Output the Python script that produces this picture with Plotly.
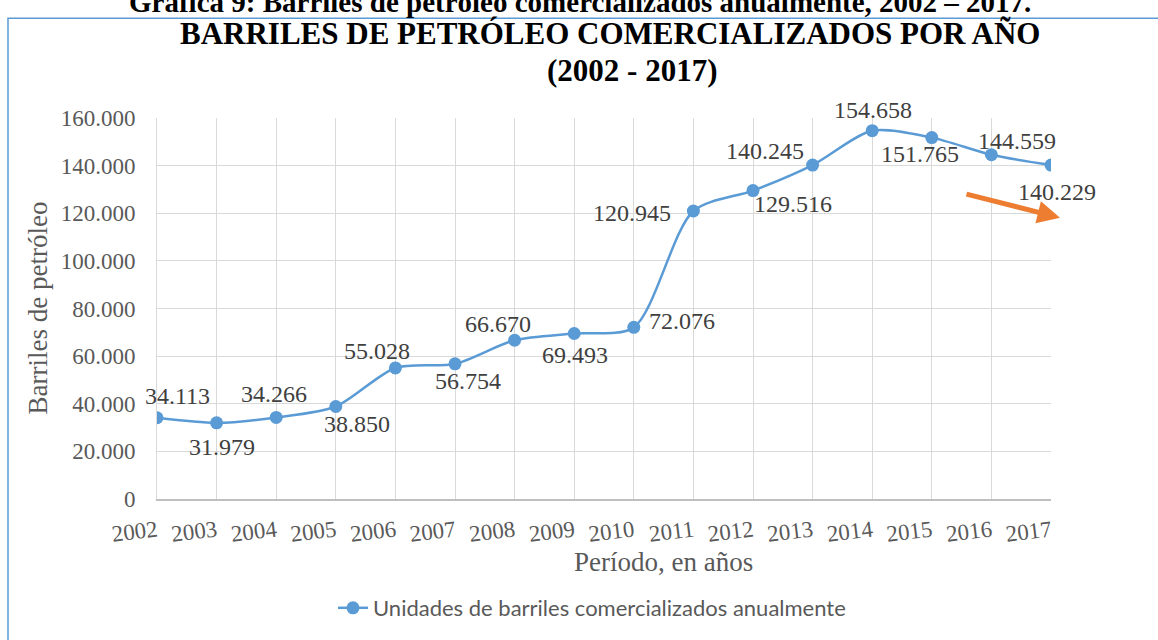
import plotly.graph_objects as go

years = list(range(2002, 2018))
barrels = [34113, 31979, 34266, 38850, 55028, 56754, 66670, 69493, 72076,
           120945, 129516, 140245, 154658, 151765, 144559, 140229]
# label offsets (pixels) from each point, as positioned in the original chart
label_dx = [20, 5, -2, 21, -18, 13, -17, 1, 48, -61, 40, -48, 1, -12, 26, 6]
label_dy = [-22, 24, -23, 18, -17, 17, -16, 21, -6, 2, 13, -14, -21, 16, -14, 27]
y_ticks = [0, 20000, 40000, 60000, 80000, 100000, 120000, 140000, 160000]

W, H = 1158, 640
L, R, T, B = 157, 1051, 118, 500

def px(xp):
    return (xp - L) / (R - L)

def py(yp):
    return (B - yp) / (B - T)

SERIF = "Liberation Serif, Times New Roman, serif"
BLUE = "#5B9BD5"

fig = go.Figure()
fig.add_trace(go.Scatter(
    x=years, y=barrels, mode="lines+markers",
    name="Unidades de barriles comercializados anualmente",
    line=dict(color=BLUE, width=2.5, shape="spline", smoothing=0.8),
    marker=dict(color=BLUE, size=13),
))

annotations = []
for yr, v, dx, dy in zip(years, barrels, label_dx, label_dy):
    annotations.append(dict(
        x=yr, y=v, xref="x", yref="y", text=f"{v:,}".replace(",", "."),
        showarrow=False, xshift=dx, yshift=-dy,
        font=dict(family=SERIF, size=24, color="#404040"),
        xanchor="center", yanchor="middle",
    ))

annotations += [
    dict(x=px(580), y=py(2), xref="paper", yref="paper", showarrow=False,
         text="<b>Gráfica 9: Barriles de petróleo comercializados anualmente, 2002 – 2017.</b>",
         font=dict(family=SERIF, size=29, color="black"), xanchor="center", yanchor="middle"),
    dict(x=px(610), y=py(33), xref="paper", yref="paper", showarrow=False,
         text="<b>BARRILES DE PETRÓLEO COMERCIALIZADOS POR AÑO</b>",
         font=dict(family=SERIF, size=31, color="black"), xanchor="center", yanchor="middle"),
    dict(x=px(632), y=py(70), xref="paper", yref="paper", showarrow=False,
         text="<b>(2002 - 2017)</b>",
         font=dict(family=SERIF, size=31, color="black"), xanchor="center", yanchor="middle"),
    dict(x=px(663), y=py(563), xref="paper", yref="paper", showarrow=False,
         text="Período, en años",
         font=dict(family=SERIF, size=27, color="#595959"), xanchor="center", yanchor="middle"),
    dict(x=px(38), y=py(308), xref="paper", yref="paper", showarrow=False,
         text="Barriles de petróleo", textangle=-90,
         font=dict(family=SERIF, size=27, color="#595959"), xanchor="center", yanchor="middle"),
    dict(x=px(1060), y=py(218), xref="paper", yref="paper", showarrow=True,
         ax=-95, ay=-24, text="", arrowhead=2, arrowsize=0.9, arrowwidth=5,
         arrowcolor="#ED7D31"),
]

fig.update_layout(
    width=W, height=H,
    margin=dict(l=L, r=W - R, t=T, b=H - B),
    paper_bgcolor="white", plot_bgcolor="white",
    separators=",.",
    showlegend=True,
    legend=dict(orientation="h", x=px(592), y=py(608), xanchor="center", yanchor="middle",
                font=dict(family="Lato, Calibri, sans-serif", size=22, color="#595959"),
                bgcolor="rgba(0,0,0,0)"),
    annotations=annotations,
    shapes=[dict(type="rect", xref="paper", yref="paper",
                 x0=px(8), x1=px(1175), y0=py(18), y1=py(670),
                 line=dict(color="#5B9BD5", width=1.5), fillcolor="rgba(0,0,0,0)", layer="below")],
)

fig.update_xaxes(
    range=[2002, 2017], tickmode="array", tickvals=years, ticktext=[str(y) for y in years],
    tickangle=-7, ticks="", ticklabelstandoff=8,
    tickfont=dict(family=SERIF, size=23, color="#595959"),
    showgrid=True, gridcolor="#D9D9D9", gridwidth=1,
    showline=True, linecolor="#BFBFBF", linewidth=1.5, zeroline=False,
)
fig.update_yaxes(
    range=[0, 160000], tickmode="array", tickvals=y_ticks, tickformat=",",
    ticks="", ticklabelstandoff=16,
    tickfont=dict(family=SERIF, size=23, color="#595959"),
    showgrid=True, gridcolor="#D9D9D9", gridwidth=1,
    showline=True, linecolor="#D9D9D9", linewidth=1, zeroline=False,
)

fig.write_html("out.html", config={"displayModeBar": False},
               post_script="document.body.style.margin='0';")
